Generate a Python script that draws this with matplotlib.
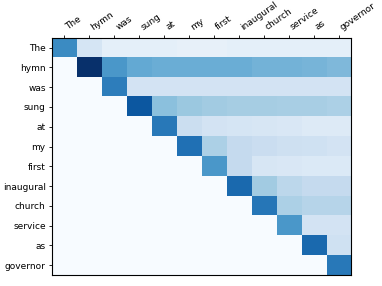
import matplotlib
matplotlib.use("Agg")
import matplotlib.pyplot as plt
import numpy as np

words = ["The", "hymn", "was", "sung", "at", "my", "first", "inaugural",
         "church", "service", "as", "governor"]

# attention weights per row (upper triangle)
row_the = [0.65, 0.17, 0.09, 0.09, 0.09, 0.08, 0.08, 0.09, 0.09, 0.09, 0.09, 0.09]
row_hymn = [1.00, 0.60, 0.52, 0.50, 0.50, 0.50, 0.50, 0.48, 0.48, 0.47, 0.45]
row_was = [0.70, 0.18, 0.18, 0.18, 0.18, 0.18, 0.18, 0.18, 0.18, 0.18]
row_sung = [0.85, 0.42, 0.38, 0.36, 0.35, 0.35, 0.34, 0.34, 0.33]
row_at = [0.72, 0.22, 0.18, 0.17, 0.16, 0.15, 0.13, 0.13]
row_my = [0.75, 0.33, 0.25, 0.23, 0.21, 0.20, 0.18]
row_first = [0.60, 0.25, 0.16, 0.15, 0.14, 0.14]
row_inaugural = [0.78, 0.36, 0.28, 0.25, 0.25]
row_church = [0.73, 0.33, 0.30, 0.30]
row_service = [0.60, 0.18, 0.18]
row_as = [0.78, 0.20]
row_governor = [0.72]

rows = [row_the, row_hymn, row_was, row_sung, row_at, row_my, row_first,
        row_inaugural, row_church, row_service, row_as, row_governor]

n = len(words)
mat = np.zeros((n, n))
for i, r in enumerate(rows):
    mat[i, i:i + len(r)] = r

fig = plt.figure(figsize=(3.82, 2.86), dpi=100)
ax = fig.add_axes([0.136, 0.038, 0.783, 0.83])
ax.imshow(mat, cmap="Blues", vmin=0, vmax=1, aspect="auto")
ax.set_xticks(range(n))
ax.set_yticks(range(n))
ax.set_xticklabels(words, rotation=35, ha="left", fontsize=6.5)
ax.set_yticklabels(words, fontsize=6.5)
ax.xaxis.tick_top()
ax.tick_params(length=2.5, width=0.6, pad=2)
for s in ax.spines.values():
    s.set_linewidth(0.8)

plt.savefig("out.png", dpi=100)
